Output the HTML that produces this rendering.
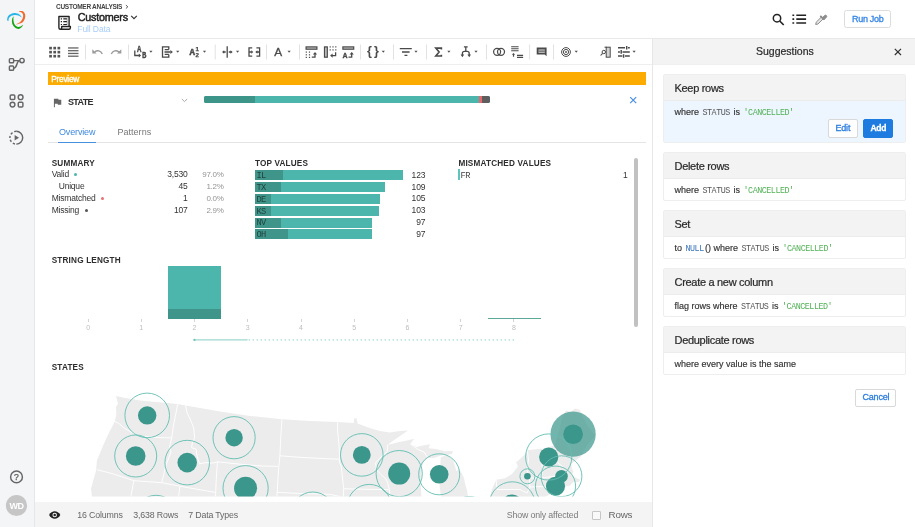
<!DOCTYPE html>
<html lang="en">
<head>
<meta charset="utf-8">
<title>Customers</title>
<style>
*{box-sizing:border-box;margin:0;padding:0}
html,body{width:915px;height:527px;overflow:hidden;background:#fff}
body{position:relative;font-family:"Liberation Sans",sans-serif;color:#333;font-size:9px}
.a{position:absolute}
.t{position:absolute;white-space:nowrap;line-height:1}
.m{font-family:"Liberation Mono",monospace}
svg{position:absolute;overflow:visible}
/* sidebar */
#side{left:0;top:0;width:35px;height:527px;background:#f4f5f7;border-right:1px solid #e6e7e9}
/* header */
#hdr{left:35px;top:0;width:880px;height:39px;border-bottom:1px solid #e9e9e9;background:#fff}
#tb{left:35px;top:39px;width:618px;height:26px;border-bottom:1px solid #eeeeee;background:#fff}
#rp{left:652px;top:39px;width:263px;height:488px;border-left:1px solid #e7e7e7;background:#fff}
#rph{left:653px;top:39px;width:262px;height:26px;background:#f3f3f3;border-bottom:1px solid #efefef}
.card{position:absolute;left:663px;width:243px;border:1px solid #eeeeee;border-radius:2px;background:#fff;overflow:hidden}
.card .h{height:26px;background:#f3f3f3;border-bottom:1px solid #ececec}
.btn{position:absolute;border:1px solid #d9d9d9;border-radius:2px;background:#fff}
#foot{left:35px;top:502px;width:617px;height:25px;background:#f4f4f4}

.ct{font-size:11px;color:#2b2b2b;letter-spacing:-0.3px;-webkit-text-stroke:0.220px #2b2b2b}
.cb{font-size:9px;color:#333;letter-spacing:0;-webkit-text-stroke:0.150px currentColor}
.cb .m{font-size:8.4px;letter-spacing:-0.475px;margin:0 1.2px 0 1px;-webkit-text-stroke:0}
.k{color:#555}.g{color:#52b257}.b{color:#3b73b9}
.bt{font-size:9px;letter-spacing:-0.2px;-webkit-text-stroke:0.300px currentColor}

.ft{font-size:8.8px;color:#666;letter-spacing:-0.15px}

.hd{font-size:8.200px;font-weight:bold;color:#2e2e2e;letter-spacing:0.180px}
.sm{font-size:8.5px;color:#333;letter-spacing:-0.2px}
.pc{font-size:8px;letter-spacing:-0.3px;margin-top:1.100px}
.tv{font-size:8.700px;letter-spacing:-0.650px;color:#21433f;margin-top:0.700px}
#root{position:absolute;left:0;top:0;width:915px;height:527px;will-change:transform;transform:translateZ(0)}
</style>
</head>
<body>
<div id="root">
<div id="side" class="a"></div>
<div id="hdr" class="a"></div>
<div id="tb" class="a"></div>
<div id="rp" class="a"></div>
<div id="rph" class="a"></div>
<div id="foot" class="a"></div>

<svg style="left:0;top:0" width="35" height="527" viewBox="0 0 35 527">
<path d="M7.20 19.90C7.13 19.13 7.30 17.33 8.00 16.30C8.70 15.27 10.20 14.23 11.40 13.70C12.60 13.17 13.87 12.98 15.20 13.10C16.53 13.22 18.30 13.70 19.40 14.40C20.50 15.10 21.87 17.08 21.80 17.30C21.73 17.52 20.10 16.10 19.00 15.70C17.90 15.30 16.47 14.90 15.20 14.90C13.93 14.90 12.45 15.15 11.40 15.70C10.35 16.25 9.40 17.33 8.90 18.20C8.40 19.07 8.68 20.62 8.40 20.90C8.12 21.18 7.27 20.67 7.20 19.90Z" fill="#29b5e8"/>
<path d="M19.00 11.40C19.20 11.20 21.78 10.80 22.80 11.30C23.82 11.80 24.78 13.12 25.10 14.40C25.42 15.68 25.22 17.60 24.70 19.00C24.18 20.40 23.40 21.90 22.00 22.80C20.60 23.70 16.62 24.53 16.30 24.40C15.98 24.27 19.03 23.03 20.10 22.00C21.17 20.97 22.20 19.40 22.70 18.20C23.20 17.00 23.28 15.75 23.10 14.80C22.92 13.85 22.28 13.07 21.60 12.50C20.92 11.93 18.80 11.60 19.00 11.40Z" fill="#f26a2b"/>
<path d="M13.50 16.30C13.27 16.42 12.17 18.37 12.00 19.70C11.83 21.03 11.97 22.97 12.50 24.30C13.03 25.63 14.18 26.93 15.20 27.70C16.22 28.47 17.53 28.97 18.60 28.90C19.67 28.83 20.88 28.00 21.60 27.30C22.32 26.60 23.08 24.83 22.90 24.70C22.72 24.57 21.35 26.13 20.50 26.50C19.65 26.87 18.68 27.10 17.80 26.90C16.92 26.70 15.87 26.05 15.20 25.30C14.53 24.55 14.10 23.45 13.80 22.40C13.50 21.35 13.45 20.02 13.40 19.00C13.35 17.98 13.73 16.18 13.50 16.30Z" fill="#14a714"/>
<g stroke="#666" stroke-width="1.450" fill="none">
<rect x="9.4" y="58.6" width="4.2" height="4.2" rx="0.8"/><rect x="9.4" y="66" width="4.2" height="4.2" rx="0.8"/><circle cx="22" cy="60.6" r="2.2"/>
<path d="M13.6 60.6h6.2M13.6 68.1c4.2 0 2.4-7.5 6.2-7.5"/>
<rect x="10.2" y="94.9" width="4.6" height="4.6" rx="1"/><circle cx="20.6" cy="97.2" r="2.4"/><circle cx="12.5" cy="104.6" r="2.4"/><rect x="18.3" y="102.3" width="4.6" height="4.6" rx="1"/>
<path d="M16.3 131.3a6.4 6.4 0 1 1 0 12.8"/><path d="M16.3 131.3a6.4 6.4 0 0 0 0 12.8" stroke-dasharray="2.2 1.8"/>
<circle cx="16.5" cy="476.9" r="5.9"/>
</g>
<path d="M14.6 134.9l4.4 2.8-4.4 2.8z" fill="#666"/>
<text x="16.5" y="480.1" text-anchor="middle" style="font-family:'Liberation Sans',sans-serif" font-size="8.600" fill="#555" stroke="#555" stroke-width="0.250">?</text>
<circle cx="16.5" cy="505.5" r="10.6" fill="#c6c6c6"/>
<text x="16.5" y="508.8" text-anchor="middle" style="font-family:'Liberation Sans',sans-serif" font-size="9" font-weight="bold" letter-spacing="-0.4" fill="#fff">WD</text>
</svg>


<div class="t" id="bc" style="left:56px;top:4.1px;font-size:6.5px;font-weight:bold;color:#444;letter-spacing:-0.28px">CUSTOMER ANALYSIS</div><svg style="left:125px;top:4px" width="4" height="6" viewBox="125 4 4 6"><path d="M125.900 5.100l1.900 1.700-1.900 1.700" stroke="#444" stroke-width="0.900" fill="none"/></svg>
<svg style="left:57px;top:15px" width="15" height="16" viewBox="57 15 15 16">
<path d="M69.100 26.500V16.500H58.900V27.700a1.500 1.500 0 0 0 1.500 1.500h8.500a1.500 1.500 0 0 0 1.500-1.500v-1.200h-8.700v1.200a1.500 1.500 0 0 1-1.500 1.500" stroke="#222" stroke-width="1.400" fill="none" stroke-linejoin="round"/>
<path d="M67.200 17.400v8.500" stroke="#ccc" stroke-width="1.600"/>
<path d="M60.800 18.900h1.200M60.800 21.700h1.200M60.800 24.500h1.200M63.300 18.900h3.600M63.300 21.700h3.600M63.300 24.500h3.600" stroke="#222" stroke-width="1.200"/>
</svg>
<div class="t" id="ttl" style="left:77.7px;top:11.5px;font-size:10.8px;color:#222;letter-spacing:-0.220px;-webkit-text-stroke:0.450px #222">Customers</div>
<svg style="left:130px;top:14px" width="9" height="7" viewBox="130 14 9 7"><path d="M131.2 15.9l2.8 2.7 2.8-2.7" stroke="#333" stroke-width="1.2" fill="none"/></svg>
<div class="t" id="fd" style="left:77.3px;top:25.2px;font-size:8.5px;color:#a7cef8;letter-spacing:-0.1px">Full Data</div>
<svg style="left:770px;top:11px" width="60" height="16" viewBox="770 11 60 16">
<circle cx="777" cy="18.2" r="3.7" stroke="#222" stroke-width="1.5" fill="none"/><path d="M779.7 21l4 4" stroke="#222" stroke-width="1.7"/>
<path d="M796.3 15.2h9.8M796.3 19.1h9.8M796.3 23h9.8" stroke="#222" stroke-width="1.6"/><path d="M792.4 15.2h1.8M792.4 19.1h1.8M792.4 23h1.8" stroke="#222" stroke-width="1.6"/>
<path d="M815.700 24.500l0.500-2.300 5.300-5.300 1.800 1.800-5.300 5.300z" stroke="#8c8c8c" stroke-width="1" fill="#e4e4e4"/><path d="M820.300 15.900l3.800 3.800" stroke="#8c8c8c" stroke-width="1.700" fill="none"/><path d="M822.300 17.700l2.300-2.300a1.350 1.350 0 0 1 1.900 1.900l-2.300 2.300z" fill="#8c8c8c" stroke="#8c8c8c" stroke-width="0.800"/>
</svg>
<div class="btn" style="left:844px;top:10.300px;width:47px;height:17.700px;border-color:#dcdcdc;border-radius:2.500px"></div>
<div class="t" id="rj" style="left:852px;top:15.3px;font-size:9px;color:#3485e6;letter-spacing:-0.300px;-webkit-text-stroke:0.300px #3485e6">Run Job</div>

<!--TOOLBAR-->
<svg style="left:35px;top:39px" width="618" height="26" viewBox="35 39 618 26"><rect x="49.20" y="46.80" width="2.7" height="2.6" fill="#555"/>
<rect x="49.20" y="50.85" width="2.7" height="2.6" fill="#555"/>
<rect x="49.20" y="54.90" width="2.7" height="2.6" fill="#555"/>
<rect x="53.35" y="46.80" width="2.7" height="2.6" fill="#555"/>
<rect x="53.35" y="50.85" width="2.7" height="2.6" fill="#555"/>
<rect x="53.35" y="54.90" width="2.7" height="2.6" fill="#555"/>
<rect x="57.50" y="46.80" width="2.7" height="2.6" fill="#555"/>
<rect x="57.50" y="50.85" width="2.7" height="2.6" fill="#555"/>
<rect x="57.50" y="54.90" width="2.7" height="2.6" fill="#555"/>
<rect x="68" y="47.30" width="10.5" height="1.3" fill="#666"/>
<rect x="68" y="50.05" width="10.5" height="1.3" fill="#666"/>
<rect x="68" y="52.80" width="10.5" height="1.3" fill="#666"/>
<rect x="68" y="55.55" width="10.5" height="1.3" fill="#666"/>
<path d="M85.5 44.5v15" stroke="#e2e2e2" stroke-width="1"/>
<path d="M94.600 52.100c2.700-2.300 6.300-1.600 7.700 2" stroke="#999" stroke-width="1.300" fill="none"/><path d="M92.300 49.300v4.300h4.300z" fill="#999"/>
<path d="M119 52.100c-2.700-2.300-6.300-1.600-7.700 2" stroke="#999" stroke-width="1.300" fill="none"/><path d="M121.300 49.300v4.300h-4.300z" fill="#999"/>
<path d="M128.5 44.5v15" stroke="#e2e2e2" stroke-width="1"/>
<text x="136.900" y="52.100" textLength="4.400" lengthAdjust="spacingAndGlyphs" style="font-family:'Liberation Mono',monospace;font-weight:bold" font-size="9.300" fill="#4a4a4a" stroke="#4a4a4a" stroke-width="0.300">A</text>
<text x="141.900" y="57.700" textLength="4.400" lengthAdjust="spacingAndGlyphs" style="font-family:'Liberation Mono',monospace;font-weight:bold" font-size="9.300" fill="#4a4a4a" stroke="#4a4a4a" stroke-width="0.300">B</text>
<path d="M134.800 50.600v4.900h4.400" stroke="#4a4a4a" stroke-width="1.300" fill="none"/><path d="M138.800 53.500l2.300 2-2.300 2z" fill="#4a4a4a"/>
<path d="M149.3 50.700h3.200l-1.600 2z" fill="#505050"/>
<path d="M168.8 49.6v-2.7h-6.3v10.2h6.3v-2.7M164.700 49.700h4.100M164.700 54.300h4.100M164.500 52h6" stroke="#4a4a4a" stroke-width="1.3" fill="none"/><path d="M170.4 50l2.5 2-2.5 2z" fill="#4a4a4a"/>
<path d="M176.1 50.700h3.200l-1.600 2z" fill="#505050"/>
<text x="189.4" y="55.1" style="font-family:'Liberation Mono',monospace;font-weight:bold" font-size="9" fill="#4a4a4a" stroke="#4a4a4a" stroke-width="0.45">A</text>
<text x="195.6" y="51.2" style="font-family:'Liberation Sans',sans-serif;font-weight:bold" font-size="6.2" fill="#4a4a4a" stroke="#4a4a4a" stroke-width="0.25">1</text>
<text x="195.6" y="57.2" style="font-family:'Liberation Sans',sans-serif;font-weight:bold" font-size="6.2" fill="#4a4a4a" stroke="#4a4a4a" stroke-width="0.25">2</text>
<path d="M202.9 50.700h3.200l-1.600 2z" fill="#505050"/>
<path d="M215.2 44.5v15" stroke="#e2e2e2" stroke-width="1"/>
<path d="M227.2 46.2v11.5M223.5 52h2.2M228.8 52h2.4" stroke="#4a4a4a" stroke-width="1.3" fill="none"/><path d="M224.2 50.2l-2.2 1.8 2.2 1.8zM230.5 50.2l2.2 1.8-2.2 1.8z" fill="#4a4a4a"/>
<path d="M236.0 50.700h3.200l-1.600 2z" fill="#505050"/>
<path d="M252.2 47.9h-3.2v8.2h3.2M256.4 47.9h3.2v8.2h-3.2M249 52h2.6M259.6 52h-2.6" stroke="#4a4a4a" stroke-width="1.3" fill="none"/><path d="M251.2 50.3l2.1 1.7-2.1 1.7zM257.4 50.3l-2.1 1.7 2.1 1.7z" fill="#4a4a4a"/>
<path d="M266.5 44.5v15" stroke="#e2e2e2" stroke-width="1"/>
<text x="274.3" y="56" style="font-family:'Liberation Sans',sans-serif" font-size="11.8" fill="#4a4a4a" stroke="#4a4a4a" stroke-width="0.300">A</text>
<path d="M287.5 50.700h3.200l-1.600 2z" fill="#505050"/>
<path d="M299.5 44.5v15" stroke="#e2e2e2" stroke-width="1"/>
<rect x="306.1" y="46.900" width="10.800" height="2.300" fill="#c4c4c4" stroke="#4a4a4a" stroke-width="1.200"/>
<rect x="305.7" y="51.5" width="1.200" height="1.200" fill="#4a4a4a"/>
<rect x="305.7" y="54.2" width="1.200" height="1.200" fill="#4a4a4a"/>
<rect x="305.7" y="56.8" width="1.200" height="1.200" fill="#4a4a4a"/>
<rect x="308.9" y="51.5" width="1.200" height="1.200" fill="#4a4a4a"/>
<rect x="308.9" y="54.2" width="1.200" height="1.200" fill="#4a4a4a"/>
<rect x="308.9" y="56.8" width="1.200" height="1.200" fill="#4a4a4a"/>
<path d="M311.8 57.200h3.200v-3.600" stroke="#4a4a4a" stroke-width="1.300" fill="none"/><path d="M312.9 54.400l2.100-2.500 2.100 2.500z" fill="#4a4a4a"/>
<rect x="324.500" y="46.900" width="2.800" height="10.300" fill="#c4c4c4" stroke="#4a4a4a" stroke-width="1.200"/>
<rect x="329.6" y="46.3" width="1.200" height="1.200" fill="#4a4a4a"/>
<rect x="329.6" y="49.3" width="1.200" height="1.200" fill="#4a4a4a"/>
<rect x="332.4" y="46.3" width="1.200" height="1.200" fill="#4a4a4a"/>
<rect x="332.4" y="49.3" width="1.200" height="1.200" fill="#4a4a4a"/>
<rect x="335.2" y="46.3" width="1.200" height="1.200" fill="#4a4a4a"/>
<rect x="335.2" y="49.3" width="1.200" height="1.200" fill="#4a4a4a"/>
<path d="M335.600 52.200v3.400h-3.800" stroke="#4a4a4a" stroke-width="1.300" fill="none"/><path d="M332.600 53.500l-2.500 2.100 2.500 2.100z" fill="#4a4a4a"/>
<rect x="342.9" y="46.900" width="10.800" height="2.300" fill="#c4c4c4" stroke="#4a4a4a" stroke-width="1.200"/>
<text x="342.700" y="57.700" textLength="4.600" lengthAdjust="spacingAndGlyphs" style="font-family:'Liberation Mono',monospace;font-weight:bold" font-size="8" fill="#4a4a4a" stroke="#4a4a4a" stroke-width="0.350">A</text>
<path d="M348.5 57.200h3.200v-3.600" stroke="#4a4a4a" stroke-width="1.300" fill="none"/><path d="M349.6 54.400l2.100-2.500 2.100 2.500z" fill="#4a4a4a"/>
<path d="M360.6 44.5v15" stroke="#e2e2e2" stroke-width="1"/>
<text x="366.900" y="55.100" style="font-family:'Liberation Sans',sans-serif;font-weight:bold" font-size="12.500" letter-spacing="2.200" fill="#4a4a4a">{}</text>
<path d="M381.7 50.700h3.200l-1.600 2z" fill="#505050"/>
<path d="M393.5 44.5v15" stroke="#e2e2e2" stroke-width="1"/>
<path d="M399.8 48.6h12M402 52h7.6M404.5 55.3h2.9" stroke="#4a4a4a" stroke-width="1.3" fill="none"/>
<path d="M414.4 50.700h3.200l-1.600 2z" fill="#505050"/>
<path d="M426.5 44.5v15" stroke="#e2e2e2" stroke-width="1"/>
<path d="M441.400 49.400v-1.300h-5.600l3.300 3.900-3.300 4h5.600v-1.300" stroke="#4a4a4a" stroke-width="1.600" fill="none" stroke-linejoin="miter"/>
<path d="M447.3 50.700h3.200l-1.600 2z" fill="#505050"/>
<path d="M463.900 46.800h3.800M465.800 46.800v4.600M462.400 55.500v-2a2.100 2.100 0 0 1 2.100-2.100h2.600a2.100 2.100 0 0 1 2.100 2.100v2" stroke="#4a4a4a" stroke-width="1.300" fill="none"/><path d="M460.6 54.6h3.6l-1.8 2.6zM467.4 54.6h3.6l-1.8 2.6z" fill="#4a4a4a"/>
<path d="M474.4 50.700h3.200l-1.600 2z" fill="#505050"/>
<path d="M486.5 44.5v15" stroke="#e2e2e2" stroke-width="1"/>
<ellipse cx="497.100" cy="51.800" rx="3.500" ry="3.500" stroke="#4a4a4a" stroke-width="1.250" fill="none"/><ellipse cx="501" cy="51.800" rx="3.500" ry="3.500" stroke="#4a4a4a" stroke-width="1.250" fill="none"/>
<path d="M511.200 46.700h7.400M511.200 48.700h7.400M511.200 50.700h7.400M517 55.300h6.100M517 57.300h6.100M513.500 56.700v-2.600" stroke="#4a4a4a" stroke-width="1.150" fill="none"/><path d="M511.900 54.700l1.600-1.800 1.600 1.800z" fill="#4a4a4a"/>
<path d="M529.6 44.5v15" stroke="#e2e2e2" stroke-width="1"/>
<path d="M536.7 47.6h9.9v8.6l-1.9-1.7h-8z" fill="#4a4a4a"/><rect x="538.500" y="49.400" width="6.300" height="3.500" fill="#c4c4c4"/><path d="M538.500 51.150h6.300" stroke="#4a4a4a" stroke-width="0.900"/>
<path d="M553.5 44.5v15" stroke="#e2e2e2" stroke-width="1"/>
<circle cx="566" cy="52" r="4.4" stroke="#4a4a4a" stroke-width="1" fill="none"/><circle cx="566" cy="52" r="2.6" stroke="#4a4a4a" stroke-width="1" fill="none"/><circle cx="566" cy="52" r="0.9" fill="#4a4a4a"/>
<path d="M574.6 50.700h3.200l-1.600 2z" fill="#505050"/>
<rect x="606.2" y="47.2" width="4" height="10" fill="#d4d4d4" stroke="#4a4a4a" stroke-width="1"/><path d="M604.5 47.2h2" stroke="#4a4a4a" stroke-width="1"/><circle cx="603.8" cy="52" r="1.7" stroke="#4a4a4a" stroke-width="1" fill="none"/><path d="M602.6 53.3l-2 2.2" stroke="#4a4a4a" stroke-width="1.1"/>
<path d="M618 47.800h7M628 47.800h1.800M618 51.900h1.900M622.500 51.900h7.300M618 56h4.300M625 56h4.800M626.700 46v3.600M621.200 50.100v3.600M623.600 54.200v3.600" stroke="#4a4a4a" stroke-width="1.450" fill="none"/>
<path d="M632.5 50.700h3.200l-1.600 2z" fill="#505050"/></svg>
<!--/TOOLBAR-->
<div class="a" style="left:48px;top:72px;width:598px;height:13px;background:#fcab00"></div>
<div class="t" id="pv" style="left:51.3px;top:74.8px;font-size:8.4px;color:#fff;letter-spacing:-0.300px;-webkit-text-stroke:0.350px #fff">Preview</div>
<svg style="left:52px;top:97px" width="11" height="12" viewBox="52 97 11 12"><path transform="translate(51.450 96.900) scale(0.490)" d="M14.4 6L14 4H5v17h2v-7h5.6l.4 2h7V6z" fill="#666"/></svg>
<div class="t" id="st" style="left:68px;top:97.500px;font-size:9px;font-weight:bold;color:#2e2e2e;letter-spacing:-0.650px">STATE</div>
<svg style="left:180px;top:97px" width="9" height="7" viewBox="180 97 9 7"><path d="M181.800 99l2.700 2.600 2.700-2.600" stroke="#aaa" stroke-width="1" fill="none"/></svg>
<div class="a" style="left:203.700px;top:95.600px;width:286.300px;height:7.600px;border-radius:1.800px;overflow:hidden;background:#4db6ac"><div class="a" style="left:0;top:0;width:51px;height:8px;background:#3d9488"></div><div class="a" style="left:275.200px;top:0;width:2.900px;height:8px;background:#e8696b"></div><div class="a" style="left:278.100px;top:0;width:9px;height:8px;background:#5e5e5e"></div></div>
<svg style="left:629px;top:96px" width="9" height="9" viewBox="629 96 9 9"><path d="M630.200 97.2l6 6M636.200 97.2l-6 6" stroke="#4a90e2" stroke-width="1.2"/></svg>
<div class="t" id="ov" style="left:59px;top:127.600px;font-size:9px;color:#3f8ae0;letter-spacing:-0.15px">Overview</div>
<div class="t" id="pt" style="left:117.5px;top:127.600px;font-size:9px;color:#777;letter-spacing:0.02px">Patterns</div>
<div class="a" style="left:48px;top:142.300px;width:598px;height:1px;background:#e4e4e4"></div>
<div class="a" style="left:58px;top:141.500px;width:38.300px;height:1.600px;background:#4a90e2"></div>
<div class="t hd" id="h1" style="left:51.7px;top:159.6px">SUMMARY</div>
<div class="t hd" id="h2" style="left:254.9px;top:159.6px">TOP VALUES</div>
<div class="t hd" id="h3" style="left:458.4px;top:159.6px">MISMATCHED VALUES</div>
<div class="t hd" id="h4" style="left:51.7px;top:256.7px">STRING LENGTH</div>
<div class="t hd" id="h5" style="left:51.7px;top:363.7px">STATES</div>
<div class="t sm" style="left:51.7px;top:170.2px">Valid</div>
<div class="t sm" style="right:727.5px;top:170.2px">3,530</div>
<div class="t sm pc" style="right:691.5px;top:170.2px;color:#939393">97.0%</div>
<div class="a" style="left:74.100px;top:173.200px;width:3px;height:3px;border-radius:50%;background:#4db6ac"></div>
<div class="t sm" style="left:58.7px;top:181.9px">Unique</div>
<div class="t sm" style="right:727.5px;top:181.9px">45</div>
<div class="t sm pc" style="right:691.5px;top:181.9px;color:#939393">1.2%</div>
<div class="t sm" style="left:51.7px;top:193.7px">Mismatched</div>
<div class="t sm" style="right:727.5px;top:193.7px">1</div>
<div class="t sm pc" style="right:691.5px;top:193.7px;color:#939393">0.0%</div>
<div class="a" style="left:101.1px;top:197.3px;width:3px;height:3px;border-radius:50%;background:#e57373"></div>
<div class="t sm" style="left:51.7px;top:205.5px">Missing</div>
<div class="t sm" style="right:727.5px;top:205.5px">107</div>
<div class="t sm pc" style="right:691.5px;top:205.5px;color:#939393">2.9%</div>
<div class="a" style="left:85.4px;top:209.1px;width:3px;height:3px;border-radius:50%;background:#555"></div>
<div class="a" style="left:255px;top:169.8px;width:147.9px;height:10.1px;background:#4db6ac"><div class="a" style="left:0;top:0;width:27.7px;height:10.1px;background:#3f958a"></div></div>
<div class="t m tv" style="left:256.5px;top:171.1px">IL</div>
<div class="t sm" style="right:489.8px;top:170.6px">123</div>
<div class="a" style="left:255px;top:181.7px;width:130.0px;height:10.1px;background:#4db6ac"><div class="a" style="left:0;top:0;width:26.3px;height:10.1px;background:#3f958a"></div></div>
<div class="t m tv" style="left:256.5px;top:183.0px">TX</div>
<div class="t sm" style="right:489.8px;top:182.5px">109</div>
<div class="a" style="left:255px;top:193.6px;width:125.0px;height:10.1px;background:#4db6ac"><div class="a" style="left:0;top:0;width:16.2px;height:10.1px;background:#3f958a"></div></div>
<div class="t m tv" style="left:256.5px;top:194.9px">DE</div>
<div class="t sm" style="right:489.8px;top:194.4px">105</div>
<div class="a" style="left:255px;top:205.6px;width:123.6px;height:10.1px;background:#4db6ac"><div class="a" style="left:0;top:0;width:16.2px;height:10.1px;background:#3f958a"></div></div>
<div class="t m tv" style="left:256.5px;top:206.9px">KS</div>
<div class="t sm" style="right:489.8px;top:206.4px">103</div>
<div class="a" style="left:255px;top:217.5px;width:116.7px;height:10.1px;background:#4db6ac"><div class="a" style="left:0;top:0;width:26.3px;height:10.1px;background:#3f958a"></div></div>
<div class="t m tv" style="left:256.5px;top:218.8px">NV</div>
<div class="t sm" style="right:489.8px;top:218.3px">97</div>
<div class="a" style="left:255px;top:229.4px;width:116.7px;height:10.1px;background:#4db6ac"><div class="a" style="left:0;top:0;width:33.2px;height:10.1px;background:#3f958a"></div></div>
<div class="t m tv" style="left:256.5px;top:230.7px">OH</div>
<div class="t sm" style="right:489.8px;top:230.2px">97</div>
<div class="a" style="left:458.200px;top:169.200px;width:1.600px;height:10.600px;background:#5fc4bb"></div>
<div class="t m tv" style="left:460.600px;top:171.600px;color:#444">FR</div>
<div class="t sm" style="right:287.5px;top:170.600px">1</div>
<div class="a" style="left:633.900px;top:158px;width:4px;height:169px;border-radius:2px;background:#c1c1c1"></div>
<div class="a" style="left:168.2px;top:265.700px;width:52.400px;height:53px;background:#4db6ac"><div class="a" style="left:0;top:43.2px;width:52.400px;height:9.800px;background:#3f958a"></div></div>
<div class="a" style="left:488px;top:317.500px;width:52.800px;height:1px;background:#5aa999"></div>
<div class="a" style="left:87.6px;top:319.200px;width:1px;height:3px;background:#d4d4d4"></div>
<div class="t" style="left:83.1px;width:10px;text-align:center;top:324px;font-size:7px;color:#bdbdbd">0</div>
<div class="a" style="left:140.8px;top:319.200px;width:1px;height:3px;background:#d4d4d4"></div>
<div class="t" style="left:136.3px;width:10px;text-align:center;top:324px;font-size:7px;color:#bdbdbd">1</div>
<div class="a" style="left:194.0px;top:319.200px;width:1px;height:3px;background:#d4d4d4"></div>
<div class="t" style="left:189.5px;width:10px;text-align:center;top:324px;font-size:7px;color:#bdbdbd">2</div>
<div class="a" style="left:247.3px;top:319.200px;width:1px;height:3px;background:#d4d4d4"></div>
<div class="t" style="left:242.8px;width:10px;text-align:center;top:324px;font-size:7px;color:#bdbdbd">3</div>
<div class="a" style="left:300.5px;top:319.200px;width:1px;height:3px;background:#d4d4d4"></div>
<div class="t" style="left:296.0px;width:10px;text-align:center;top:324px;font-size:7px;color:#bdbdbd">4</div>
<div class="a" style="left:353.7px;top:319.200px;width:1px;height:3px;background:#d4d4d4"></div>
<div class="t" style="left:349.2px;width:10px;text-align:center;top:324px;font-size:7px;color:#bdbdbd">5</div>
<div class="a" style="left:406.9px;top:319.200px;width:1px;height:3px;background:#d4d4d4"></div>
<div class="t" style="left:402.4px;width:10px;text-align:center;top:324px;font-size:7px;color:#bdbdbd">6</div>
<div class="a" style="left:460.1px;top:319.200px;width:1px;height:3px;background:#d4d4d4"></div>
<div class="t" style="left:455.6px;width:10px;text-align:center;top:324px;font-size:7px;color:#bdbdbd">7</div>
<div class="a" style="left:513.4px;top:319.200px;width:1px;height:3px;background:#d4d4d4"></div>
<div class="t" style="left:508.9px;width:10px;text-align:center;top:324px;font-size:7px;color:#bdbdbd">8</div>
<svg style="left:190px;top:336px" width="330" height="8" viewBox="190 336 330 8"><path d="M194.400 339.900h53.200" stroke="#9fd8cf" stroke-width="1.400"/><circle cx="194.400" cy="339.900" r="1.100" fill="#6fc0b4"/><path d="M248.600 339.900h266" stroke="#a5dad2" stroke-width="1.200" stroke-dasharray="1.400 2.600"/></svg>
<!--MAP-->
<svg style="left:48px;top:380px" width="598" height="117" viewBox="48 380 598 117">
<defs><clipPath id="mc"><rect x="48" y="380" width="598" height="116.600"/></clipPath></defs>
<g clip-path="url(#mc)">
<polygon points="116,396 128,398.5 140,400.5 177.7,404 185.6,405.5 220,411.5 250,415.9 281.9,419.3 310,421 337.7,421.9 353.6,422.9 354.3,418.2 356.6,418.2 357.6,423.6 369.6,427.9 380,431 389.5,432.6 400,431 408.1,430.4 400,436 392,441.5 387.5,445 398,442.3 407,440.5 414.2,438.8 410.5,444 416.5,447 424,445.3 430.1,444.3 428.5,448.3 436,449 445,451.3 452.9,451 452,454 446,455 440.8,455.6 434,458 428,458 423.5,462 424.5,459.5 426,457.5 422,466 421.5,472 420.5,483 421.5,497 92,497 91,488.7 96,470.7 96.9,460.8 102,448 107.9,434.9 112.5,426 114.9,421 116.4,414 115.9,407 118,404 117,400" fill="#ececec"/>
<polygon points="440.8,457 447,455.6 452.9,459.5 455,466 456.3,471 459,469.3 461,472 464,478 465.1,483.8 467,490 468.1,497 441,497 439.5,485 440,475 440.3,465" fill="#ececec"/>
<polygon points="490,497 492,489.2 496.1,479.7 505,478.3 512,474 517.9,466.4 516,462.6 521,458 525.5,454 527.4,450.3 542.6,448.4 554.9,445.5 557,438 559.7,428.5 562,418 566,410.5 571,412 574.9,408.5 580,410 584,420 588,427 595.7,436 590,441 586,447 580.5,456.9 575,461 571.1,464.5 572,468.5 573.5,472.1 571.5,475 577,478.5 580.5,479.7 578,482.5 574,481.5 570,485.5 563.5,487.3 557,490.5 552.1,493 545,497" fill="#ececec"/>
<g stroke="#fff" stroke-width="0.9" fill="none" stroke-linejoin="round">
<path d="M114.9 421.5L119 423.5L123.9 427.9L131 432L139.8 436.3L150 437L160 437.6L171.7 437.9"/>
<path d="M177.7 404L176 413L173.5 425L171.7 437.9L169.5 447L171 452L166 465L161.7 482.7"/>
<path d="M185.6 405.5L186.8 412L190.5 420L193.8 428L194.6 437.9L192.5 442L191.6 447.8L196 449L197 456L199.6 463.8L206 462.5L211 463.3L217.5 462"/>
<path d="M96.9 469.7L112 473.5L133.8 480.7L161.7 482.7L190 488L215.8 492.5"/>
<path d="M133.8 480.7L130.8 497"/>
<path d="M180 486L178.5 497"/>
<path d="M217.5 461.5L216.2 480L215.5 497"/>
<path d="M217.5 461.8L240 464.2L260 465.9L277.9 466.4"/>
<path d="M281.9 419.3L280.8 437L279.9 455.8L278.5 470L276.9 497"/>
<path d="M279.9 455.8L300 457.3L320 458.4L339.7 459.2"/>
<path d="M337.7 421.9L337.5 430L339 445L339.7 459.2L339.3 462L341.2 466L343.7 488.7L343.3 497"/>
<path d="M277 492.3L300 493.5L330 494.3L340 496.5"/>
<path d="M343.7 488.7L365 489.3L389.5 489.7"/>
<path d="M387.5 445L387.2 452L382 456L375.6 462.8L376.5 470L381 474.5L386 479L387.5 482.7L389.5 489.7L390 497"/>
<path d="M410.5 444L418 449.5L424 452L428 458"/>
<path d="M527.4 450.3L528.5 460L527 470L529.5 478"/>
<path d="M542.6 448.4L541 458L542.5 468L541.5 478"/>
<path d="M554.9 445.5L556.5 455L558 463L563 467"/>
<path d="M529.5 478L541.5 478L556 476L566 473"/>
<path d="M530 487L545 486.5L557 486L563.5 487.3"/>
<path d="M557 486L557.5 491"/>
<path d="M496.1 479.7L497 489.5L520 489.5L527 493L530 487L529.5 478"/>
</g>
<circle cx="573.1" cy="434.2" r="22.600" fill="#3d978c" fill-opacity="0.72"/>
<g fill="#3b968b">
<circle cx="147.2" cy="415.4" r="9.2"/>
<circle cx="135.7" cy="456" r="9.8"/>
<circle cx="187.2" cy="462.6" r="9.8"/>
<circle cx="234.1" cy="437.7" r="8.7"/>
<circle cx="245.6" cy="488.2" r="11.5"/>
<circle cx="361.8" cy="454.9" r="8.9"/>
<circle cx="399.2" cy="473.6" r="11"/>
<circle cx="439.2" cy="474.3" r="9.3"/>
<circle cx="548.7" cy="457" r="9.6"/>
<circle cx="527.4" cy="476.3" r="3.3"/>
<circle cx="561.5" cy="476.2" r="6.3"/>
<circle cx="555.5" cy="486.2" r="9.5"/>
<circle cx="512.2" cy="504.8" r="10.4"/>
<circle cx="573.1" cy="434.2" r="9.8"/>
</g><g stroke="#62bdb1" stroke-width="0.900" fill="none">
<circle cx="147.2" cy="415.4" r="22.3"/>
<circle cx="135.7" cy="456" r="21"/>
<circle cx="187.2" cy="462.6" r="22.3"/>
<circle cx="234.1" cy="437.7" r="21.1"/>
<circle cx="245.6" cy="488.2" r="22.6"/>
<circle cx="361.8" cy="454.9" r="21.3"/>
<circle cx="399.2" cy="473.6" r="23.1"/>
<circle cx="439.2" cy="474.3" r="20.5"/>
<circle cx="548.7" cy="457" r="23.1"/>
<circle cx="527.4" cy="476.3" r="7.5"/>
<circle cx="561.5" cy="476.2" r="20.4"/>
<circle cx="555.5" cy="486.2" r="20.1"/>
<circle cx="512.2" cy="504.8" r="23"/>
<circle cx="369.3" cy="506.4" r="22"/>
<circle cx="312.8" cy="513.5" r="21.5"/>
<circle cx="156" cy="517" r="21.7"/>
<circle cx="469.5" cy="517" r="20.5"/>
</g></g></svg>
<!--/MAP-->

<div class="t" style="left:756px;top:45.900px;font-size:10.5px;color:#2b2b2b;-webkit-text-stroke:0.220px #2b2b2b" id="sug">Suggestions</div>
<svg style="left:894px;top:48.200px" width="8" height="8" viewBox="0 0 8 8"><path d="M0.800 0.800L7 7M7 0.800L0.800 7" stroke="#333" stroke-width="1.2" fill="none"/></svg>

<div class="card" style="top:74px;height:69px"><div class="h"></div><div class="a" style="left:0;top:26px;width:243px;height:42px;background:#edf5fe"></div></div>
<div class="t ct" style="left:674.5px;top:82.5px">Keep rows</div>
<div class="t cb" style="left:674.5px;top:107.5px">where <span class="m k">STATUS</span> is <span class="m g">'CANCELLED'</span></div>
<div class="btn" style="left:828px;top:119px;width:30px;height:18.5px"></div>
<div class="t bt" style="left:835.5px;top:123.5px;color:#2b7de0">Edit</div>
<div class="btn" style="left:863px;top:119px;width:30px;height:18.5px;background:#1e7ce0;border-color:#1e7ce0"></div>
<div class="t bt" style="left:870.5px;top:123.5px;color:#fff;font-weight:bold;font-size:8.5px;letter-spacing:-0.3px">Add</div>

<div class="card" style="top:152px;height:49px"><div class="h"></div></div>
<div class="t ct" style="left:674.5px;top:160.5px">Delete rows</div>
<div class="t cb" style="left:674.5px;top:185.5px">where <span class="m k">STATUS</span> is <span class="m g">'CANCELLED'</span></div>

<div class="card" style="top:210px;height:49px"><div class="h"></div></div>
<div class="t ct" style="left:674.5px;top:218.5px">Set</div>
<div class="t cb" style="left:674.5px;top:243.5px">to <span class="m b">NULL</span>() where <span class="m k">STATUS</span> is <span class="m g">'CANCELLED'</span></div>

<div class="card" style="top:268px;height:49px"><div class="h"></div></div>
<div class="t ct" style="left:674.5px;top:276.5px">Create a new column</div>
<div class="t cb" style="left:674.5px;top:301.5px">flag rows where <span class="m k">STATUS</span> is <span class="m g">'CANCELLED'</span></div>

<div class="card" style="top:326px;height:49px"><div class="h"></div></div>
<div class="t ct" style="left:674.5px;top:334.5px">Deduplicate rows</div>
<div class="t cb" style="left:674.5px;top:359.5px">where every value is the same</div>

<div class="btn" style="left:855px;top:388.5px;width:41px;height:18px"></div>
<div class="t bt" style="left:862.5px;top:392.5px;color:#2b7de0">Cancel</div>


<svg style="left:48px;top:510px" width="14" height="10" viewBox="48 510 14 10"><path d="M49.100 515c1.300-2.500 3.400-3.700 5.600-3.700s4.300 1.200 5.600 3.700c-1.300 2.500-3.400 3.700-5.600 3.700s-4.300-1.200-5.600-3.700z" fill="#222"/><circle cx="54.700" cy="515" r="2.250" fill="#f4f4f4"/><circle cx="54.700" cy="515" r="1.250" fill="#222"/></svg>
<div class="t ft" style="left:77.3px;top:510.6px">16 Columns</div>
<div class="t ft" style="left:133.3px;top:510.6px">3,638 Rows</div>
<div class="t ft" style="left:188.2px;top:510.6px">7 Data Types</div>
<div class="t ft" style="left:506.8px;top:510.6px;color:#7a7a7a">Show only affected</div>
<div class="a" style="left:591.800px;top:511px;width:8.800px;height:8.600px;border:1px solid #c6c6c6;background:#f9f9f9;border-radius:1px"></div>
<div class="t" style="left:608.6px;top:510.2px;font-size:9.8px;color:#666;letter-spacing:-0.2px">Rows</div>

</div>
</body>
</html>
